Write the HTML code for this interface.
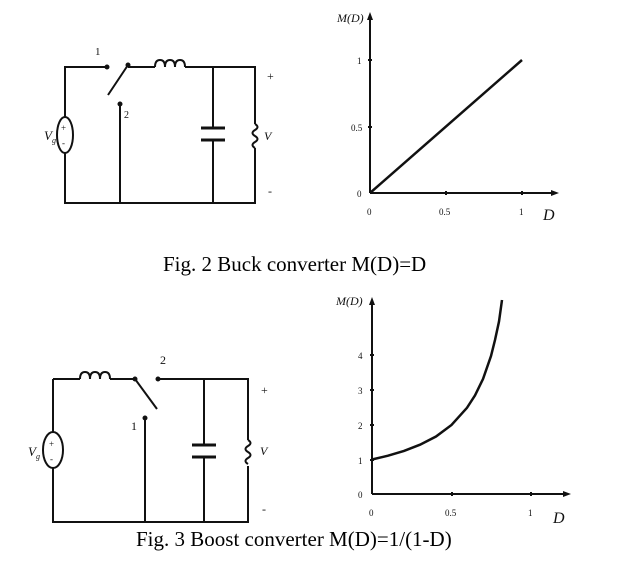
<!DOCTYPE html>
<html><head><style>
html,body{margin:0;padding:0;background:#fff;width:621px;height:561px;overflow:hidden}
svg{display:block}
.t{font-family:"Liberation Serif",serif}
</style></head><body>
<svg width="621" height="561" viewBox="0 0 621 561" xmlns="http://www.w3.org/2000/svg">
<g stroke="#111" stroke-width="2" fill="none">
<!-- Buck circuit -->
<path d="M107 67 H65 V117 M65 153 V203 H255 V148 M255 124 V67 H185"/>
<path d="M128 67 H155"/>
<path d="M155 67 q0 -7 5 -7 q5 0 5 7 q0 -7 5 -7 q5 0 5 7 q0 -7 5 -7 q5 0 5 7"/>
<circle cx="107" cy="67" r="1.5" fill="#111"/>
<circle cx="128" cy="65" r="1.5" fill="#111"/>
<path d="M128 65 L108 95"/>
<circle cx="120" cy="104" r="1.5" fill="#111"/>
<path d="M120 105 V203"/>
<path d="M213 67 V128 M213 140 V203"/>
<path d="M201 128 H225 M201 140 H225" stroke-width="3"/>
<path d="M255 124 q5 3 0 6 q-5 3 0 6 q5 3 0 6 q-5 3 0 6"/>
<ellipse cx="65" cy="135" rx="8" ry="18"/>
<!-- Buck graph -->
<path d="M370 193 V18 M370 193 H553"/>
<path d="M370 193 L522 60" stroke-width="2.5"/>
<path d="M368 60 h4 M368 127 h4 M446 191 v4 M522 191 v4"/>
<!-- Boost circuit -->
<path d="M53 379 V432 M53 468 V522 H248 V466 M248 440 V379 H158"/>
<path d="M53 379 H80 M110 379 H135"/>
<path d="M80 379 q0 -7 5 -7 q5 0 5 7 q0 -7 5 -7 q5 0 5 7 q0 -7 5 -7 q5 0 5 7"/>
<circle cx="135" cy="379" r="1.5" fill="#111"/>
<circle cx="158" cy="379" r="1.5" fill="#111"/>
<path d="M135 379 L157 409"/>
<circle cx="145" cy="418" r="1.5" fill="#111"/>
<path d="M145 419 V522"/>
<path d="M204 379 V445 M204 457 V522"/>
<path d="M192 445 H216 M192 457 H216" stroke-width="3"/>
<path d="M248 440 q5 3 0 6 q-5 3 0 6 q5 3 0 6 q-5 3 0 6"/>
<ellipse cx="53" cy="450" rx="10" ry="18"/>
<!-- Boost graph -->
<path d="M372 494 V303 M372 494 H565"/>
<path d="M370 460 h4 M370 425 h4 M370 390 h4 M370 355 h4 M452 492 v4 M531 492 v4"/>
<path stroke-width="2.5" d="M372 459.5 L388 455.7 L404 450.9 L420 444.7 L436 436.5 L451.5 425 L467 407.8 L475 395.4 L483 379 L491 356 L495 340 L499 321.5 L502 300"/>
</g>
<g fill="#111">
<path d="M370 12 l-3 8 h6 z M559 193 l-8 -3 v6 z M372 297 l-3 8 h6 z M571 494 l-8 -3 v6 z"/>
</g>
<g class="t" fill="#111" font-size="11">
<text x="95" y="55">1</text>
<text x="124" y="118" font-size="10">2</text>
<text x="44" y="140" font-style="italic" font-size="13">V<tspan font-size="8" dy="3">g</tspan></text>
<text x="61" y="131" font-size="9">+</text><text x="62" y="146" font-size="9">-</text>
<text x="267" y="80" font-size="12">+</text>
<text x="264" y="140" font-style="italic" font-size="12">V</text>
<text x="268" y="195" font-size="12">-</text>
<text x="337" y="22" font-style="italic" font-size="12">M(D)</text>
<text x="357" y="64" font-size="9">1</text>
<text x="351" y="131" font-size="9">0.5</text>
<text x="357" y="197" font-size="9">0</text>
<text x="367" y="215" font-size="9">0</text>
<text x="439" y="215" font-size="9">0.5</text>
<text x="519" y="215" font-size="9">1</text>
<text x="543" y="220" font-style="italic" font-size="16">D</text>
<text x="160" y="364" font-size="12">2</text>
<text x="131" y="430" font-size="12">1</text>
<text x="28" y="456" font-style="italic" font-size="13">V<tspan font-size="8" dy="3">g</tspan></text>
<text x="49" y="447" font-size="9">+</text><text x="50" y="462" font-size="9">-</text>
<text x="261" y="394" font-size="12">+</text>
<text x="260" y="455" font-style="italic" font-size="12">V</text>
<text x="262" y="513" font-size="12">-</text>
<text x="336" y="305" font-style="italic" font-size="12">M(D)</text>
<text x="358" y="359" font-size="9">4</text>
<text x="358" y="394" font-size="9">3</text>
<text x="358" y="429" font-size="9">2</text>
<text x="358" y="464" font-size="9">1</text>
<text x="358" y="498" font-size="9">0</text>
<text x="369" y="516" font-size="9">0</text>
<text x="445" y="516" font-size="9">0.5</text>
<text x="528" y="516" font-size="9">1</text>
<text x="553" y="523" font-style="italic" font-size="16">D</text>
</g>
<g class="t" fill="#000" font-size="21">
<text x="163" y="271">Fig. 2 Buck converter M(D)=D</text>
<text x="136" y="546">Fig. 3 Boost converter M(D)=1/(1-D)</text>
<text x="140" y="-4" font-size="16">Fig. 1(a)</text>
</g>
</svg>
</body></html>
